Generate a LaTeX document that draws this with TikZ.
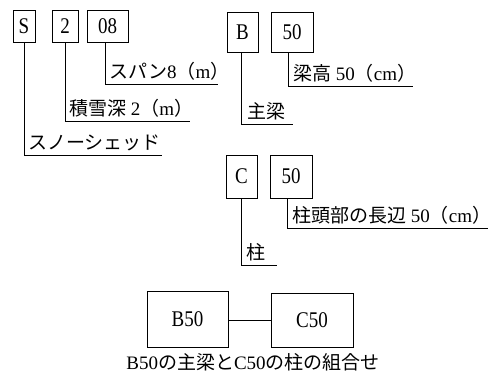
\documentclass[tikz,border=0pt]{standalone}
\usepackage{fontspec}
\usepackage{graphicx}
\setmainfont{Liberation Serif}
\newfontfamily\cjk{Noto Sans CJK JP}
\newcommand{\tallt}[1]{\scalebox{1}[1.18]{#1}}
\begin{document}
\begin{tikzpicture}[x=1pt,y=-1pt,
  codebox/.style={draw,line width=0.8pt,inner sep=0pt,font=\fontsize{19}{19}\selectfont},
  bigbox/.style={draw,line width=0.8pt,inner sep=0pt,font=\fontsize{19}{19}\selectfont},
  leader/.style={line width=0.8pt},
  lbl/.style={anchor=base west,inner sep=0pt,font=\fontsize{19}{19}\selectfont}]
\useasboundingbox (0,0) rectangle (497,378);
% code boxes
\node[codebox,minimum width=22pt,minimum height=32pt] (S) at (24,26) {\tallt{S}};
\node[codebox,minimum width=26pt,minimum height=32pt] (N2) at (65,26) {\tallt{2}};
\node[codebox,minimum width=41pt,minimum height=32pt] (N08) at (107.5,26) {\tallt{08}};
\node[codebox,minimum width=31pt,minimum height=40pt] (B) at (242.5,32) {\tallt{B}};
\node[codebox,minimum width=42pt,minimum height=40pt] (B50n) at (292,32) {\tallt{50}};
\node[codebox,minimum width=31pt,minimum height=43pt] (C) at (241.5,176.5) {\tallt{C}};
\node[codebox,minimum width=42pt,minimum height=43pt] (C50n) at (291,176.5) {\tallt{50}};
% leader corners and ends
\coordinate (Sk) at (24,155);   \coordinate (Se) at (162,155);
\coordinate (N2k) at (65,121);  \coordinate (N2e) at (190,121);
\coordinate (N08k) at (105,84); \coordinate (N08e) at (218,84);
\coordinate (Bk) at (241,124);  \coordinate (Be) at (293,124);
\coordinate (B50k) at (288,86); \coordinate (B50e) at (413,86);
\coordinate (Ck) at (241,265);  \coordinate (Ce) at (277,265);
\coordinate (C50k) at (287,228);\coordinate (C50e) at (488,228);
\draw[leader] (S.south) -- (Sk) -- (Se);
\draw[leader] (N2.south) -- (N2k) -- (N2e);
\draw[leader] (N08.south -| N08k) -- (N08k) -- (N08e);
\draw[leader] (B.south -| Bk) -- (Bk) -- (Be);
\draw[leader] (B50n.south -| B50k) -- (B50k) -- (B50e);
\draw[leader] (C.south -| Ck) -- (Ck) -- (Ce);
\draw[leader] (C50n.south -| C50k) -- (C50k) -- (C50e);
% labels
\node[lbl] (tS) at (28,149) {{\cjk スノーシェッド}};
\node[lbl] (t2) at (69,115) {{\cjk 積雪深} 2{\cjk （}m{\cjk ）}};
\node[lbl] (t08) at (109,78) {{\cjk スパン}8{\cjk （}m{\cjk ）}};
\node[lbl] (tB) at (247,118) {{\cjk 主梁}};
\node[lbl] (tB50) at (293,80) {{\cjk 梁高} 50{\cjk （}cm{\cjk ）}};
\node[lbl] (tC) at (246,259) {{\cjk 柱}};
\node[lbl] (tC50) at (292,222) {{\cjk 柱頭部の長辺} 50{\cjk （}cm{\cjk ）}};
% combination
\node[bigbox,minimum width=81pt,minimum height=56pt] (B50) at (187.5,319) {\tallt{B50}};
\node[bigbox,minimum width=82pt,minimum height=54pt] (C50) at (312,320) {\tallt{C50}};
\draw[leader] (B50.east |- C50) -- (C50.west);
\node[anchor=base,inner sep=0pt,font=\fontsize{19}{19}\selectfont] (cap) at (253,369) {B50{\cjk の主梁と}C50{\cjk の柱の組合せ}};
\end{tikzpicture}
\end{document}
